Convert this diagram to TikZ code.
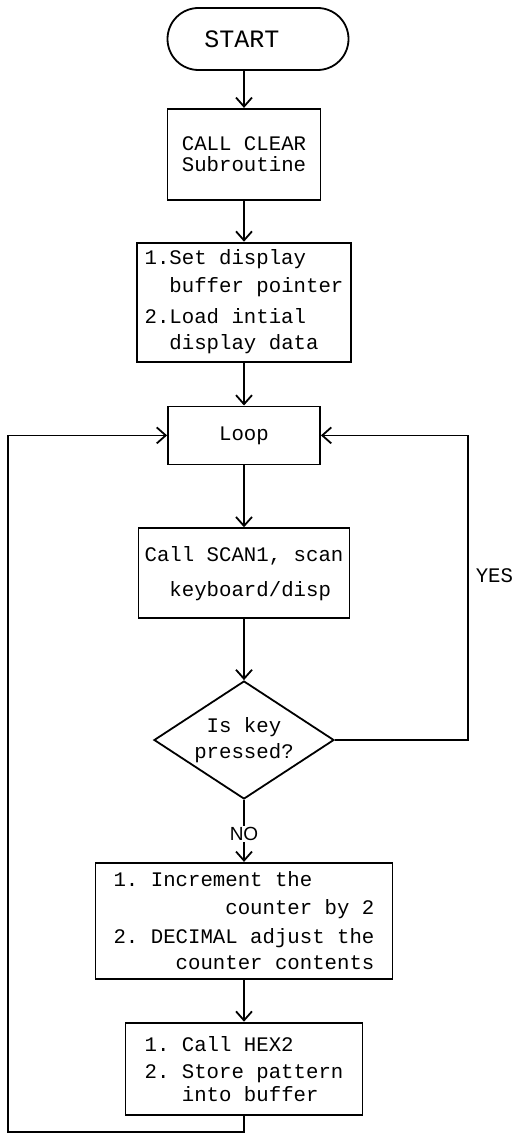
\documentclass[tikz,border=0pt]{standalone}
\usepackage{fontspec}
\setmonofont{Liberation Mono}
\newfontfamily\labelfont{Liberation Sans}
\usetikzlibrary{positioning, arrows.meta, shapes.geometric, shapes.misc}

\begin{document}
\begin{tikzpicture}[
  x=1pt, y=1pt,
  every node/.style={font=\ttfamily\fontsize{20.7pt}{25pt}\selectfont},
  box/.style={draw, line width=1.8pt, align=left, inner sep=0pt},
  term/.style={draw, rounded rectangle, line width=1.8pt, minimum width=181pt, minimum height=62pt, inner sep=0pt},
  decide/.style={draw, diamond, line width=1.8pt, aspect=1.525, minimum width=180pt, minimum height=118pt, inner sep=0pt, align=center},
  arr/.style={-{Straight Barb[length=9pt,width=16pt]}, line width=1.8pt},
]
        \useasboundingbox (0,0) rectangle (513,-1134);

        \node[term, font=\ttfamily\fontsize{25pt}{25pt}\selectfont] (start) at (258,-39) {START\hspace*{32pt}};
        \node[box, minimum width=153pt, minimum height=91pt, below=37pt of start, xshift=-14pt] (clear) {CALL CLEAR\\[-4pt]Subroutine};
        \node[box, minimum width=214pt, minimum height=119pt, below=41pt of clear] (setbuf) {1.Set display\\[3pt]\phantom{1.}buffer pointer\\[6pt]2.Load intial\\[1pt]\phantom{2.}display data};
        \node[box, minimum width=152pt, minimum height=58pt, below=43pt of setbuf] (loop) {Loop};
        \node[box, minimum width=211pt, minimum height=90pt, below=62pt of loop] (scan) {Call SCAN1, scan\\[10pt]\phantom{Ca}keyboard/disp};
        \node[decide, below=61pt of scan] (key) {Is key\\[1pt]pressed?};
        \node[box, minimum width=297pt, minimum height=116pt, below=62pt of key] (incr) {1. Increment the\\[3pt]\phantom{123456789}counter by 2\\[4pt]2. DECIMAL adjust the\\[1pt]\phantom{12345}counter contents};
        \node[box, minimum width=237pt, minimum height=92pt, below=42pt of incr] (store) {1. Call HEX2\\[2pt]2. Store pattern\\[-2pt]\phantom{123}into buffer};

        \coordinate[right=133pt of key.east] (yesx);
        \coordinate (backl) at (8,-1132);

        \draw[arr] (start.south -| clear.north) -- (clear.north);
        \draw[arr] (clear) -- (setbuf);
        \draw[arr] (setbuf) -- (loop);
        \draw[arr] (loop) -- (scan);
        \draw[arr] (scan) -- (key);
        \draw[arr] (key) -- node[pos=0.55, fill=white, inner sep=1pt, font=\labelfont\fontsize{19pt}{19pt}\selectfont] {NO} (incr);
        \draw[arr] (incr) -- (store);
        \draw[arr] (key.east) -- (yesx) |- node[pos=0.27, right=7pt, inner sep=0pt] {YES} (loop.east);
        \draw[arr] (store.south) |- (backl) |- (loop.west);
\end{tikzpicture}
\end{document}
